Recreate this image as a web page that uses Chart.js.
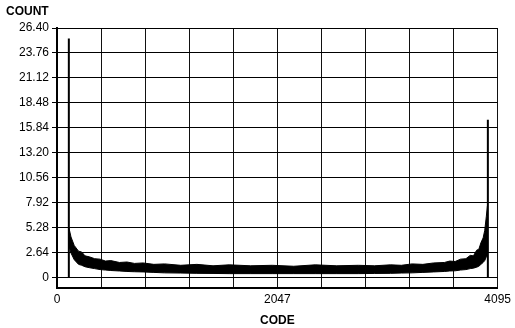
<!DOCTYPE html>
<html>
<head>
<meta charset="utf-8">
<script src="https://cdn.jsdelivr.net/npm/chart.js@4.4.1/dist/chart.umd.min.js"></script>
<style>
  html, body { margin: 0; padding: 0; background: #fff; }
  #wrap { position: relative; width: 515px; height: 328px; }
  #countLabel {
    position: absolute; left: 6px; top: 4px;
    font: bold 12px "Liberation Sans", Arial, sans-serif; color: #000;
  }
</style>
</head>
<body>
<div id="wrap">
  <canvas id="chart" width="515" height="328"></canvas>
  <div id="countLabel">COUNT</div>
</div>
<script>
// tick labels
const yTickLabels = ['0', '2.64', '5.28', '7.92', '10.56', '13.20', '15.84', '18.48', '21.12', '23.76', '26.40'];
const xGridCodes = [0, 409.5, 819, 1228.5, 1638, 2047.5, 2457, 2866.5, 3276, 3685.5, 4095];
const xTickLabels = ['0', '', '', '', '', '2047', '', '', '', '', '4095'];

// histogram band (noise envelope)
const bandCodes = [110, 130, 160, 200, 230, 260, 300, 350, 400, 450, 500, 580, 650, 720, 800, 900, 1000, 1150, 1300, 1450, 1600, 1800, 2000, 2200, 2400, 2600, 2800, 2950, 3100, 3200, 3300, 3400, 3500, 3600, 3650, 3700, 3750, 3800, 3840, 3870, 3900, 3920, 3940, 3960, 3975, 3990, 4000];
const bandUpper = [5.3, 4.3, 3.4, 2.8, 2.7, 2.3, 2.2, 2.0, 1.95, 1.75, 1.8, 1.6, 1.65, 1.5, 1.55, 1.4, 1.45, 1.3, 1.4, 1.25, 1.35, 1.25, 1.3, 1.2, 1.35, 1.25, 1.3, 1.25, 1.35, 1.3, 1.45, 1.4, 1.55, 1.6, 1.75, 1.7, 1.95, 2.0, 2.35, 2.3, 2.9, 3.0, 3.7, 4.2, 5.0, 6.5, 7.6];
const bandLower = [3.4, 2.6, 1.9, 1.4, 1.3, 1.15, 1.05, 0.95, 0.85, 0.8, 0.75, 0.7, 0.65, 0.62, 0.6, 0.55, 0.5, 0.48, 0.45, 0.44, 0.42, 0.42, 0.42, 0.42, 0.42, 0.42, 0.42, 0.44, 0.45, 0.48, 0.5, 0.55, 0.6, 0.65, 0.7, 0.72, 0.8, 0.85, 0.95, 1.0, 1.1, 1.2, 1.4, 1.6, 1.8, 2.2, 2.4];

// single tall codes
const spikeCodes = [0, 110, 4004];
const spikeCounts = [12.0, 25.3, 16.7];

const toPoints = (xs, ys) => xs.map((x, i) => ({ x: x, y: ys[i] }));

const spikePoints = [];
spikeCodes.forEach((c, i) => {
  spikePoints.push({ x: c, y: 0 });
  spikePoints.push({ x: c, y: spikeCounts[i] });
  spikePoints.push({ x: c, y: null });
});

const font = { family: '"Liberation Sans", Arial, sans-serif', size: 12 };

new Chart(document.getElementById('chart'), {
  type: 'line',
  data: {
    datasets: [
      {
        data: toPoints(bandCodes, bandLower),
        borderColor: '#000',
        borderWidth: 1,
        pointRadius: 0,
        tension: 0,
        fill: false
      },
      {
        data: toPoints(bandCodes, bandUpper),
        borderColor: '#000',
        borderWidth: 1,
        backgroundColor: '#000',
        pointRadius: 0,
        tension: 0,
        fill: '-1'
      },
      {
        data: spikePoints,
        borderColor: '#000',
        borderWidth: 2,
        pointRadius: 0,
        spanGaps: false,
        clip: false
      }
    ]
  },
  options: {
    responsive: false,
    animation: false,
    layout: { padding: { top: 28, right: 12, left: 0, bottom: 0 } },
    plugins: { legend: { display: false }, tooltip: { enabled: false } },
    scales: {
      x: {
        type: 'linear',
        min: 0,
        max: 4095,
        afterBuildTicks: (axis) => { axis.ticks = xGridCodes.map(v => ({ value: v })); },
        afterFit: (axis) => { axis.height = 40; },
        ticks: {
          autoSkip: false,
          maxRotation: 0,
          color: '#000',
          font: font,
          padding: 4,
          callback: (v, i) => xTickLabels[i]
        },
        grid: { color: '#111', lineWidth: 1, tickLength: 0 },
        border: { color: '#000', width: 2 },
        title: {
          display: true,
          text: 'CODE',
          color: '#000',
          font: { family: font.family, size: 12, weight: 'bold' },
          padding: { top: 0, bottom: 0 }
        }
      },
      y: {
        min: -1.1,
        max: 26.4,
        afterBuildTicks: (axis) => { axis.ticks = yTickLabels.map(v => ({ value: Number(v) })); },
        afterFit: (axis) => { axis.width = 57; },
        ticks: {
          color: '#000',
          font: font,
          padding: 3,
          callback: (v, i) => yTickLabels[i]
        },
        grid: { color: '#000', lineWidth: 1, tickLength: 5 },
        border: { color: '#000', width: 2 }
      }
    }
  }
});
</script>
</body>
</html>
